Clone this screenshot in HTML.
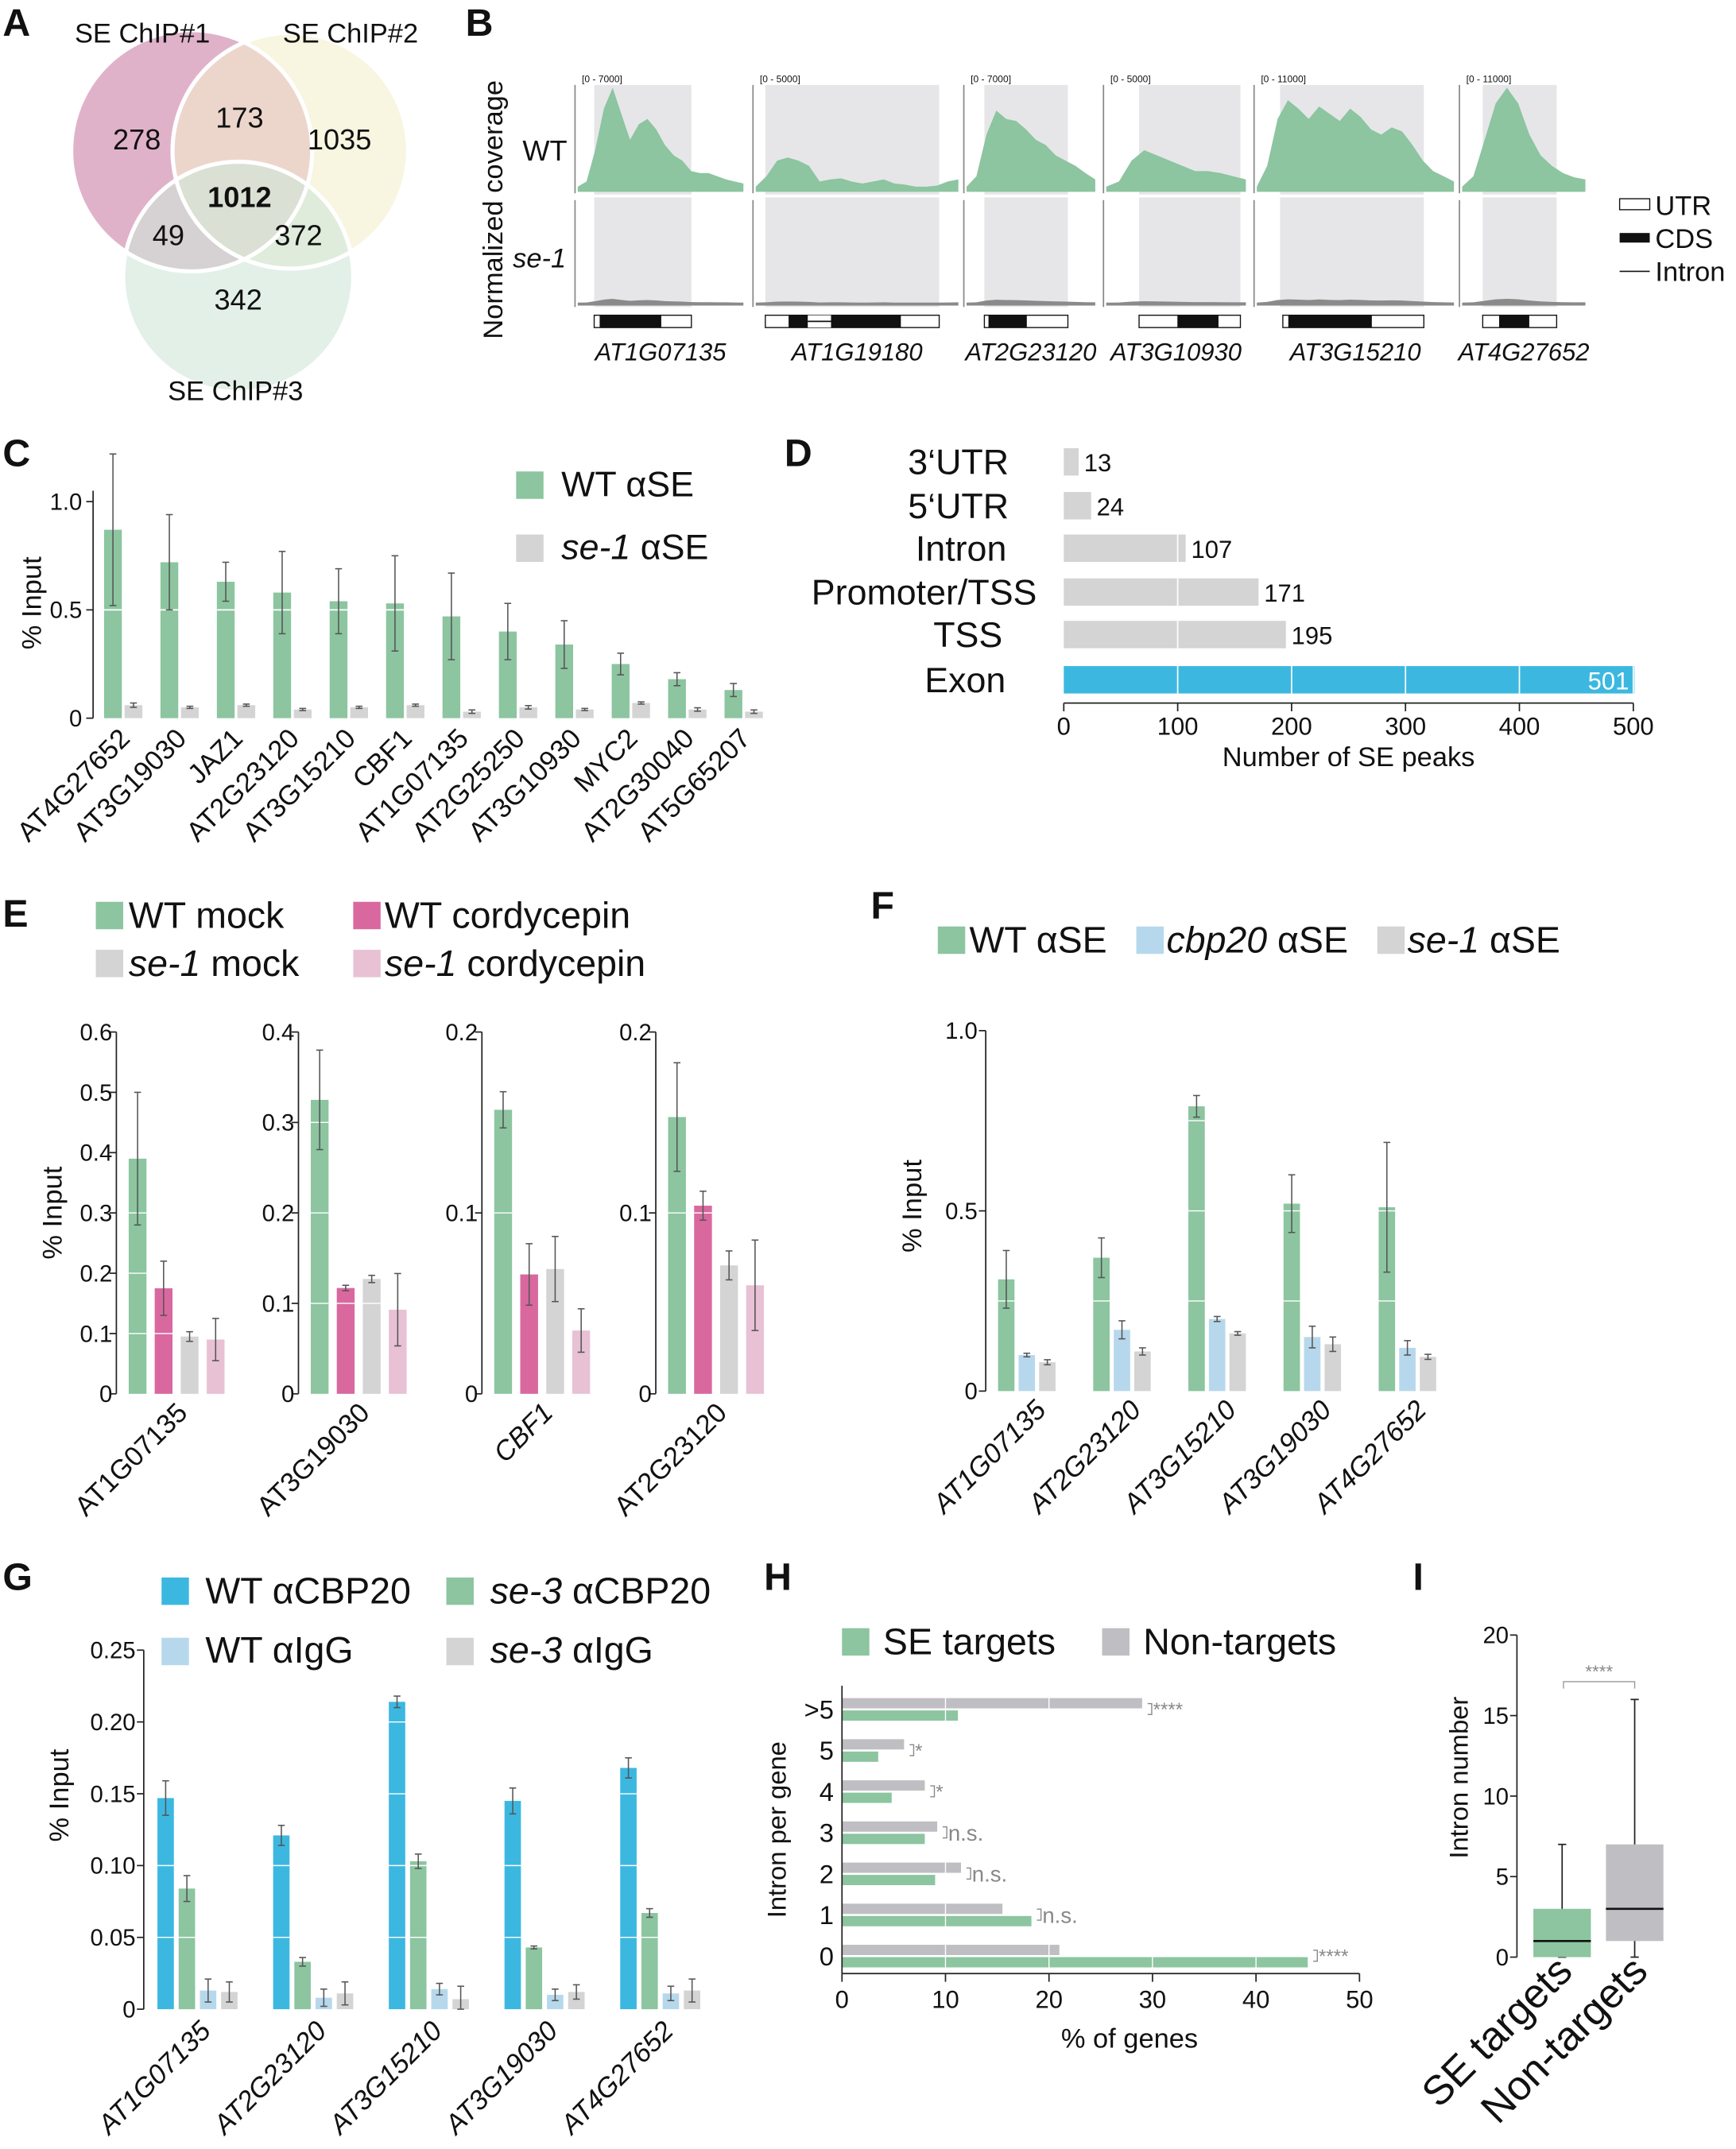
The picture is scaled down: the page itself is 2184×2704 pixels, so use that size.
<!DOCTYPE html>
<html><head><meta charset="utf-8"><style>
html,body{margin:0;padding:0;background:#fff;}
svg{display:block;font-family:"Liberation Sans",Arial,sans-serif;}
</style></head><body>
<svg id="fig" width="2184" height="2704" viewBox="0 0 1268 1568" preserveAspectRatio="none" xmlns="http://www.w3.org/2000/svg"></svg>
<script>
// ---- data ----
const vennCounts = [278, 173, 1035, 1012, 49, 372, 342];
const bTracks = ['AT1G07135','AT1G19180','AT2G23120','AT3G10930','AT3G15210','AT4G27652'];
const bRanges = ['[0 - 7000]','[0 - 5000]','[0 - 7000]','[0 - 5000]','[0 - 11000]','[0 - 11000]'];
const bCov1 = [0.05,0.1,0.4,0.8,1.0,0.75,0.5,0.65,0.7,0.6,0.45,0.35,0.3,0.2,0.18,0.18,0.15,0.12,0.1,0.08];
const bCov2 = [0.05,0.15,0.3,0.33,0.3,0.25,0.1,0.12,0.13,0.1,0.08,0.1,0.12,0.08,0.07,0.05,0.05,0.06,0.1,0.12];
const bCov3 = [0.05,0.15,0.55,0.78,0.7,0.68,0.6,0.5,0.45,0.35,0.3,0.25,0.18,0.12];
const bCov4 = [0.05,0.1,0.3,0.4,0.35,0.3,0.25,0.2,0.2,0.18,0.15,0.12];
const bCov5 = [0.05,0.25,0.7,0.88,0.8,0.7,0.82,0.75,0.68,0.8,0.72,0.6,0.55,0.62,0.58,0.45,0.3,0.2,0.15,0.1];
const bCov6 = [0.05,0.15,0.5,0.85,1.0,0.85,0.55,0.35,0.25,0.18,0.14,0.12];
const bCovs = [bCov1,bCov2,bCov3,bCov4,bCov5,bCov6];

const cGenes = ['AT4G27652','AT3G19030','JAZ1','AT2G23120','AT3G15210','CBF1','AT1G07135','AT2G25250','AT3G10930','MYC2','AT2G30040','AT5G65207'];
const cWT = [0.87,0.72,0.63,0.58,0.54,0.53,0.47,0.40,0.34,0.25,0.18,0.13];
const cWTerr = [0.35,0.22,0.09,0.19,0.15,0.22,0.20,0.13,0.11,0.05,0.03,0.03];
const cSE = [0.06,0.05,0.06,0.04,0.05,0.06,0.03,0.05,0.04,0.07,0.04,0.03];
const cSEerr = [0.01,0.005,0.005,0.005,0.005,0.005,0.008,0.008,0.005,0.005,0.008,0.008];

const dCats = ['3‘UTR','5‘UTR','Intron','Promoter/TSS','TSS','Exon'];
const dVals = [13,24,107,171,195,501];
const dTicks = [0,100,200,300,400,500];

const eGenes = ['AT1G07135','AT3G19030','CBF1','AT2G23120'];
const eMax = [0.6,0.4,0.2,0.2];
const eWTmock = [0.39,0.325,0.157,0.153];
const eWTmockErr = [0.11,0.055,0.01,0.03];
const eWTcord = [0.175,0.117,0.066,0.104];
const eWTcordErr = [0.045,0.003,0.017,0.008];
const eSEmock = [0.095,0.127,0.069,0.071];
const eSEmockErr = [0.008,0.004,0.018,0.008];
const eSEcord = [0.09,0.093,0.035,0.06];
const eSEcordErr = [0.035,0.04,0.012,0.025];

const fGenes = ['AT1G07135','AT2G23120','AT3G15210','AT3G19030','AT4G27652'];
const fWT = [0.31,0.37,0.79,0.52,0.51];
const fWTerr = [0.08,0.055,0.03,0.08,0.18];
const fCBP = [0.10,0.17,0.20,0.15,0.12];
const fCBPerr = [0.005,0.025,0.007,0.03,0.02];
const fSE = [0.08,0.11,0.16,0.13,0.095];
const fSEerr = [0.007,0.01,0.005,0.02,0.007];

const gGenes = ['AT1G07135','AT2G23120','AT3G15210','AT3G19030','AT4G27652'];
const gWT = [0.147,0.121,0.214,0.145,0.168];
const gWTerr = [0.012,0.007,0.004,0.009,0.007];
const gSE = [0.084,0.033,0.103,0.043,0.067];
const gSEerr = [0.009,0.003,0.005,0.001,0.003];
const gWTigg = [0.013,0.008,0.014,0.01,0.011];
const gWTiggErr = [0.008,0.006,0.004,0.004,0.005];
const gSEigg = [0.012,0.011,0.007,0.012,0.013];
const gSEiggErr = [0.007,0.008,0.009,0.005,0.008];
const gTicks = ['0','0.05','0.10','0.15','0.20','0.25'];

const hCats = ['>5','5','4','3','2','1','0'];
const hNon = [29,6,8,9.2,11.5,15.5,21];
const hSE = [11.2,3.5,4.8,8,9,18.3,45];
const hSig = ['****','*','*','n.s.','n.s.','n.s.','****'];

const iBoxSE = [0,0,1,3,7];
const iBoxNon = [0,1,3,7,16];

// ---- helpers ----
const NS='http://www.w3.org/2000/svg';
const svg=document.getElementById('fig');
function mk(tag,attrs,name,inter,parent){
  const e=document.createElementNS(NS,tag);
  for(const k in attrs) e.setAttribute(k,attrs[k]);
  
  
  (parent||svg).appendChild(e);
  return e;
}
function txt(x,y,s,size,name,opts){
  opts=opts||{};
  const a={x:x,y:y,'font-size':size,fill:opts.fill||'#111'};
  if(opts.anchor)a['text-anchor']=opts.anchor;
  if(opts.weight)a['font-weight']=opts.weight;
  if(opts.italic)a['font-style']='italic';
  if(opts.rot!==undefined)a.transform='rotate('+opts.rot+' '+x+' '+y+')';
  const t=mk('text',a,name,false,opts.parent);
  if(opts.html) t.innerHTML=s; else t.textContent=s;
  return t;
}
function line(x1,y1,x2,y2,name,stroke,w){return mk('line',{x1:x1,y1:y1,x2:x2,y2:y2,stroke:stroke||'#222','stroke-width':w||1},name,false);}
function rect(x,y,w,h,fill,name,extra){const a={x:x,y:y,width:w,height:h,fill:fill};for(const k in (extra||{}))a[k]=extra[k];return mk('rect',a,name,false);}
function errbar(x,yTop,yBot,name){
  line(x,yTop,x,yBot,name,'#555',0.9);
  line(x-2.5,yTop,x+2.5,yTop,name+'-cap-top','#555',0.9);
  line(x-2.5,yBot,x+2.5,yBot,name+'-cap-bottom','#555',0.9);
}
function letter(x,y,s){txt(x,y,s,28,'panel-label-'+s.toLowerCase(),{weight:'bold'});}

const GREEN='#8cc5a0',GRAY='#d4d4d4',PINK='#d9689f',LPINK='#e8c1d5',BLUE='#3cb8e0',LBLUE='#b7d8ec';

// ===== Panel A =====
letter(2,26,'A');
mk('circle',{cx:140,cy:110,r:88,fill:'#e0b2ca'},'venn-circle-chip1',false);
mk('circle',{cx:212,cy:110,r:86,fill:'#f4efcc','fill-opacity':0.6},'venn-circle-chip2',false);
mk('circle',{cx:174,cy:202,r:84,fill:'#cfe6d9','fill-opacity':0.6},'venn-circle-chip3',false);
mk('circle',{cx:140,cy:110,r:88,fill:'none',stroke:'#fff','stroke-width':3},'venn-outline-1',false);
mk('circle',{cx:212,cy:110,r:86,fill:'none',stroke:'#fff','stroke-width':3},'venn-outline-2',false);
mk('circle',{cx:174,cy:202,r:84,fill:'none',stroke:'#fff','stroke-width':3},'venn-outline-3',false);
txt(104,31,'SE ChIP#1',20,'venn-label-chip1',{anchor:'middle'});
txt(256,31,'SE ChIP#2',20,'venn-label-chip2',{anchor:'middle'});
txt(172,292,'SE ChIP#3',20,'venn-label-chip3',{anchor:'middle'});
const vpos=[[100,109],[175,93],[248,109],[175,151],[123,179],[218,179],[174,226]];
vennCounts.forEach((v,i)=>txt(vpos[i][0],vpos[i][1],String(v),21,'venn-count-'+i,{anchor:'middle',weight:i===3?'bold':null}));

// ===== Panel B =====
letter(340,26,'B');
txt(367,153,'Normalized coverage',20,'b-y-axis-title',{anchor:'middle',rot:-90});
txt(398,117,'WT',21,'b-row-wt',{anchor:'middle'});
txt(394,195,'se-1',20,'b-row-se1',{anchor:'middle',italic:true});
const bx=[[422,543],[552,700],[706,800],[808,910],[918,1062],[1068,1158]];
const bgray=[[434,505],[559,686],[719,780],[832,906],[935,1040],[1083,1137]];
const bBox=[[434,505],[559,686],[719,780],[832,906],[937,1040],[1083,1137]];
const bCds=[[[438,483]],[[576,590],[607,658]],[[722,750]],[[860,890]],[[941,1002]],[[1095,1117]]];
bTracks.forEach((g,i)=>{
  const [x0,x1]=bx[i];
  rect(bgray[i][0],62,bgray[i][1]-bgray[i][0],162,'#e6e6e8','b-highlight-'+g);
  line(x0-2,62,x0-2,141,'b-divider-wt-'+g,'#888',1);
  line(x0-2,146,x0-2,224,'b-divider-se-'+g,'#888',1);
  txt(x0+3,60,bRanges[i],7,'b-range-'+g,{});
  const cov=bCovs[i];
  const n=cov.length; const step=(x1-x0)/(n-1);
  let d='M'+x0+',140';
  cov.forEach((v,k)=>{d+=' L'+(x0+k*step).toFixed(1)+','+(140-v*76).toFixed(1);});
  d+=' L'+x1+',140 Z';
  mk('path',{d:d,fill:GREEN},'b-coverage-wt-'+g,false);
  let d2='M'+x0+',223';
  cov.forEach((v,k)=>{d2+=' L'+(x0+k*step).toFixed(1)+','+(223-2-v*3).toFixed(1);});
  d2+=' L'+x1+',223 Z';
  mk('path',{d:d2,fill:'#8a8a8a'},'b-coverage-se1-'+g,false);
  const [b0,b1]=bBox[i];
  rect(b0,230,b1-b0,9,'#fff','b-gene-utr-'+g,{stroke:'#111','stroke-width':0.8});
  if(bCds[i].length>1){rect(bCds[i][0][1],230,bCds[i][1][0]-bCds[i][0][1],9,'#fff','b-intron-gap-'+g);line(bCds[i][0][1],234.5,bCds[i][1][0],234.5,'b-intron-'+g,'#111',1);}
  bCds[i].forEach((c,k)=>rect(c[0],230,c[1]-c[0],9,'#111','b-gene-cds-'+g+'-'+k));
  txt((x0+x1)/2,263,g,18,'b-gene-name-'+g,{anchor:'middle',italic:true});
});
line(420,143,1160,143,'b-row-separator','#fff',2);
rect(1183,145,22,8,'#fff','b-legend-utr-swatch',{stroke:'#111','stroke-width':0.8});
txt(1209,157,'UTR',20,'b-legend-utr',{});
rect(1183,170,22,7,'#111','b-legend-cds-swatch');
txt(1209,181,'CDS',20,'b-legend-cds',{});
line(1183,198,1205,198,'b-legend-intron-swatch','#111',1);
txt(1209,205,'Intron',20,'b-legend-intron',{});

// ===== Panel C =====
letter(2,340,'C');
const cy0=524,cs=158,cax=68;
function cY(v){return cy0-v*cs;}
line(cax,cy0,cax,cY(1.05),'c-y-axis','#222',1);
[0,0.5,1.0].forEach(t=>{line(cax-5,cY(t),cax,cY(t),'c-tick-'+t,'#222',1);txt(cax-8,cY(t)+6,t===0?'0':t.toFixed(1),17,'c-tick-label-'+t,{anchor:'end'});});
txt(30,440,'% Input',20,'c-y-axis-title',{anchor:'middle',rot:-90});
cGenes.forEach((g,i)=>{
  const x=76+i*41.2;
  rect(x,cY(cWT[i]),13,cWT[i]*cs,GREEN,'c-bar-wt-'+g);
  rect(x+15,cY(cSE[i]),13,cSE[i]*cs,GRAY,'c-bar-se1-'+g);
  if(cWT[i]>0.5)line(x,cY(0.5),x+13,cY(0.5),'c-grid-'+g,'#fff',1);
  errbar(x+6.5,cY(cWT[i]+cWTerr[i]),cY(cWT[i]-cWTerr[i]),'c-err-wt-'+g);
  errbar(x+21.5,cY(cSE[i]+cSEerr[i]),cY(cSE[i]-cSEerr[i]),'c-err-se1-'+g);
  txt(x+20,540,g,20,'c-x-label-'+g,{anchor:'end',rot:-45});
});
rect(377,344,20,20,GREEN,'c-legend-wt-swatch');
txt(410,362,'WT αSE',26,'c-legend-wt',{});
rect(377,390,20,20,GRAY,'c-legend-se1-swatch');
txt(410,408,'<tspan font-style="italic">se-1</tspan> αSE',26,'c-legend-se1',{html:true});

// ===== Panel D =====
letter(573,340,'D');
const dx0=777,ds=416/500;
function dX(v){return dx0+v*ds;}
const dY=[337,369,400,432,463,496];
const dLabX=[700,700,702,675,707,705];
dCats.forEach((c,i)=>{
  txt(dLabX[i],dY[i]+9,c,26,'d-cat-label-'+i,{anchor:'middle'});
  const col=c==='Exon'?BLUE:GRAY;
  rect(dX(0),dY[i]-10,dVals[i]*ds,20,col,'d-bar-'+i);
  for(let t=100;t<dVals[i];t+=100) line(dX(t),dY[i]-10,dX(t),dY[i]+10,'d-grid-'+i+'-'+t,'#fff',1);
  if(c==='Exon') txt(dX(dVals[i])-4,dY[i]+7,String(dVals[i]),18,'d-value-'+i,{anchor:'end',fill:'#fff'});
  else txt(dX(dVals[i])+4,dY[i]+7,String(dVals[i]),18,'d-value-'+i,{});
});
line(dX(0),513,dX(500),513,'d-x-axis','#222',1);
dTicks.forEach(t=>{line(dX(t),513,dX(t),519,'d-tick-'+t,'#222',1);txt(dX(t),536,String(t),18,'d-tick-label-'+t,{anchor:'middle'});});
txt(985,559,'Number of SE peaks',20,'d-x-axis-title',{anchor:'middle'});

// ===== Panel E =====
letter(2,676,'E');
rect(70,658,20,20,GREEN,'e-legend-wtmock-swatch');txt(94,677,'WT mock',27,'e-legend-wtmock',{});
rect(258,658,20,20,PINK,'e-legend-wtcord-swatch');txt(281,677,'WT cordycepin',27,'e-legend-wtcord',{});
rect(70,693,20,20,GRAY,'e-legend-semock-swatch');txt(94,712,'<tspan font-style="italic">se-1</tspan> mock',27,'e-legend-semock',{html:true});
rect(258,693,20,20,LPINK,'e-legend-secord-swatch');txt(281,712,'<tspan font-style="italic">se-1</tspan> cordycepin',27,'e-legend-secord',{html:true});
txt(45,885,'% Input',20,'e-y-axis-title',{anchor:'middle',rot:-90});
const eAx=[85,218,352,479];
const ey0=1017,eH=264;
eGenes.forEach((g,i)=>{
  const ax=eAx[i],mx=eMax[i];
  const Y=v=>ey0-v/mx*eH;
  line(ax,ey0,ax,Y(mx),'e-y-axis-'+g,'#222',1);
  for(let t=0;t<=mx+1e-9;t+=0.1){
    line(ax-5,Y(t),ax,Y(t),'e-tick-'+g,'#222',1);
    txt(ax-3,Y(t)+6,t<1e-9?'0':t.toFixed(1),17,'e-tick-label-'+g,{anchor:'end'});
  }
  const vals=[eWTmock[i],eWTcord[i],eSEmock[i],eSEcord[i]];
  const errs=[eWTmockErr[i],eWTcordErr[i],eSEmockErr[i],eSEcordErr[i]];
  const cols=[GREEN,PINK,GRAY,LPINK];
  vals.forEach((v,k)=>{
    const x=ax+9+k*19;
    rect(x,Y(v),13,ey0-Y(v),cols[k],'e-bar-'+g+'-'+k);
    for(let t=0.1;t<v;t+=0.1) line(x,Y(t),x+13,Y(t),'e-grid','#fff',0.8);
    errbar(x+6.5,Y(v+errs[k]),Y(Math.max(v-errs[k],0)),'e-err-'+g+'-'+k);
  });
  txt(ax+53,1032,g,20,'e-x-label-'+g,{anchor:'end',rot:-45,italic:g==='CBF1'});
});

// ===== Panel F =====
letter(636,670,'F');
rect(685,676,20,20,GREEN,'f-legend-wt-swatch');txt(708,695,'WT αSE',27,'f-legend-wt',{});
rect(830,676,20,20,LBLUE,'f-legend-cbp20-swatch');txt(852,695,'<tspan font-style="italic">cbp20</tspan> αSE',27,'f-legend-cbp20',{html:true});
rect(1006,676,20,20,GRAY,'f-legend-se1-swatch');txt(1028,695,'<tspan font-style="italic">se-1</tspan> αSE',27,'f-legend-se1',{html:true});
const fax=720,fy0=1015,fs=263;
const fY=v=>fy0-v*fs;
line(fax,fy0,fax,fY(1.0),'f-y-axis','#222',1);
[0,0.5,1.0].forEach(t=>{line(fax-5,fY(t),fax,fY(t),'f-tick-'+t,'#222',1);txt(fax-6,fY(t)+6,t===0?'0':t.toFixed(1),17,'f-tick-label-'+t,{anchor:'end'});});
txt(673,880,'% Input',20,'f-y-axis-title',{anchor:'middle',rot:-90});
fGenes.forEach((g,i)=>{
  const x=729+i*69.5;
  const vals=[fWT[i],fCBP[i],fSE[i]],errs=[fWTerr[i],fCBPerr[i],fSEerr[i]],cols=[GREEN,LBLUE,GRAY];
  vals.forEach((v,k)=>{
    const bx=x+k*15;
    rect(bx,fY(v),12,v*fs,cols[k],'f-bar-'+g+'-'+k);
    if(v>0.25) line(bx,fY(0.25),bx+12,fY(0.25),'f-grid','#fff',0.8);
    if(v>0.5) line(bx,fY(0.5),bx+12,fY(0.5),'f-grid','#fff',0.8);
    if(v>0.75) line(bx,fY(0.75),bx+12,fY(0.75),'f-grid','#fff',0.8);
    errbar(bx+6,fY(v+errs[k]),fY(v-errs[k]),'f-err-'+g+'-'+k);
  });
  txt(x+36,1030,g,20,'f-x-label-'+g,{anchor:'end',rot:-45,italic:true});
});

// ===== Panel G =====
letter(2,1160,'G');
rect(118,1151,20,20,BLUE,'g-legend-wt-swatch');txt(150,1170,'WT αCBP20',27,'g-legend-wt',{});
rect(326,1151,20,20,GREEN,'g-legend-se3-swatch');txt(358,1170,'<tspan font-style="italic">se-3</tspan> αCBP20',27,'g-legend-se3',{html:true});
rect(118,1195,20,20,LBLUE,'g-legend-wtigg-swatch');txt(150,1213,'WT αIgG',27,'g-legend-wtigg',{});
rect(326,1195,20,20,GRAY,'g-legend-se3igg-swatch');txt(358,1213,'<tspan font-style="italic">se-3</tspan> αIgG',27,'g-legend-se3igg',{html:true});
const gax=105,gy0=1466,gs=1048;
const gY=v=>gy0-v*gs;
line(gax,gy0,gax,gY(0.25),'g-y-axis','#222',1);
gTicks.forEach((t,k)=>{const v=k*0.05;line(gax-5,gY(v),gax,gY(v),'g-tick-'+t,'#222',1);txt(gax-6,gY(v)+6,t,17,'g-tick-label-'+t,{anchor:'end'});});
txt(50,1310,'% Input',20,'g-y-axis-title',{anchor:'middle',rot:-90});
gGenes.forEach((g,i)=>{
  const x=115+i*84.5;
  const vals=[gWT[i],gSE[i],gWTigg[i],gSEigg[i]],errs=[gWTerr[i],gSEerr[i],gWTiggErr[i],gSEiggErr[i]],cols=[BLUE,GREEN,LBLUE,GRAY];
  vals.forEach((v,k)=>{
    const bx=x+k*15.5;
    rect(bx,gY(v),12,v*gs,cols[k],'g-bar-'+g+'-'+k);
    for(let t=0.05;t<v;t+=0.05) line(bx,gY(t),bx+12,gY(t),'g-grid','#fff',0.8);
    errbar(bx+6,gY(v+errs[k]),gY(Math.max(v-errs[k],0)),'g-err-'+g+'-'+k);
  });
  txt(x+40,1483,g,20,'g-x-label-'+g,{anchor:'end',rot:-45,italic:true});
});

// ===== Panel H =====
letter(558,1160,'H');
rect(615,1188,20,20,GREEN,'h-legend-se-swatch');txt(645,1207,'SE targets',27,'h-legend-se',{});
rect(805,1188,20,20,'#bfbfc3','h-legend-non-swatch');txt(835,1207,'Non-targets',27,'h-legend-non',{});
const hx0=615,hs=7.56;
const hX=v=>hx0+v*hs;
const hY0=1247;
hCats.forEach((c,i)=>{
  const y=hY0+i*30;
  txt(609,y+7,c,19,'h-cat-'+i,{anchor:'end'});
  rect(hX(0),y-8,hNon[i]*hs,7.5,'#bfbfc3','h-bar-non-'+i);
  rect(hX(0),y+1,hSE[i]*hs,7.5,GREEN,'h-bar-se-'+i);
  for(let t=10;t<hNon[i];t+=10) line(hX(t),y-8,hX(t),y-0.5,'h-grid','#fff',0.8);
  for(let t=10;t<hSE[i];t+=10) line(hX(t),y+1,hX(t),y+8.5,'h-grid','#fff',0.8);
  const bxp=hX(Math.max(hNon[i],hSE[i]))+4;
  mk('path',{d:'M'+bxp+','+(y-4)+' h3 v8 h-3',fill:'none',stroke:'#888','stroke-width':0.8},'h-sig-bracket-'+i,false);
  txt(bxp+4,y+(hSig[i]==='n.s.'?6:5),hSig[i],hSig[i]==='n.s.'?16:14,'h-sig-'+i,{fill:'#888'});
});
line(hX(0),1440,hX(50),1440,'h-x-axis','#222',1);
line(hX(0),1230,hX(0),1440,'h-y-axis','#222',1);
[0,10,20,30,40,50].forEach(t=>{line(hX(t),1440,hX(t),1446,'h-tick-'+t,'#222',1);txt(hX(t),1465,String(t),18,'h-tick-label-'+t,{anchor:'middle'});});
txt(825,1494,'% of genes',20,'h-x-axis-title',{anchor:'middle'});
txt(574,1335,'Intron per gene',19,'h-y-axis-title',{anchor:'middle',rot:-90});

// ===== Panel I =====
letter(1032,1160,'I');
const iax=1108,iy0=1428,is=11.75;
const iY=v=>iy0-v*is;
line(iax,iy0,iax,iY(20),'i-y-axis','#222',1);
[0,5,10,15,20].forEach(t=>{line(iax-5,iY(t),iax,iY(t),'i-tick-'+t,'#222',1);txt(iax-6,iY(t)+6,String(t),17,'i-tick-label-'+t,{anchor:'end'});});
txt(1072,1297,'Intron number',19,'i-y-axis-title',{anchor:'middle',rot:-90});
function box(x,w,q,col,name){
  line(x+w/2,iY(q[0]),x+w/2,iY(q[4]),name+'-whisker','#222',1);
  line(x+w/2-3,iY(q[4]),x+w/2+3,iY(q[4]),name+'-whisker-cap','#222',1);
  line(x+w/2-3,iY(q[0]),x+w/2+3,iY(q[0]),name+'-whisker-cap-low','#222',1);
  rect(x,iY(q[3]),w,iY(q[1])-iY(q[3]),col,name+'-box');
  line(x,iY(q[2]),x+w,iY(q[2]),name+'-median','#111',1.5);
}
box(1120,42,iBoxSE,GREEN,'i-se-targets');
box(1173,42,iBoxNon,'#bfbfc3','i-non-targets');
mk('path',{d:'M1142,1232 v-5 h52 v5',fill:'none',stroke:'#999','stroke-width':0.8},'i-sig-bracket',false);
txt(1168,1224,'****',13,'i-sig',{anchor:'middle',fill:'#888'});
txt(1150,1440,'SE targets',30,'i-x-label-se',{anchor:'end',rot:-45});
txt(1205,1440,'Non-targets',30,'i-x-label-non',{anchor:'end',rot:-45});
</script>
</body></html>
